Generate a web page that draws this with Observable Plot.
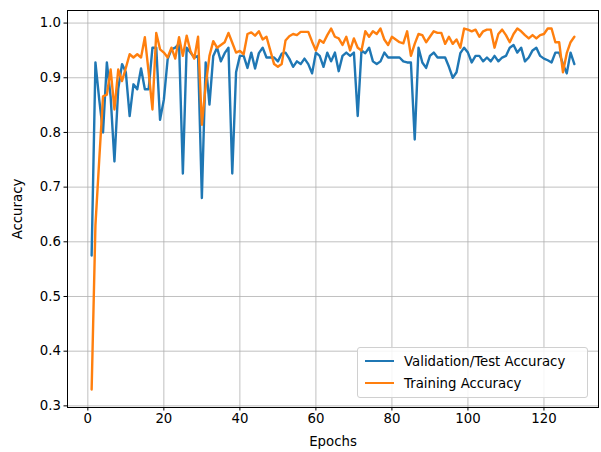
<!DOCTYPE html>
<html>
<head>
<meta charset="utf-8">
<script src="https://cdn.jsdelivr.net/npm/d3@7"></script>
<script src="https://cdn.jsdelivr.net/npm/@observablehq/plot@0.6"></script>
<style>
  html, body { margin: 0; padding: 0; background: #fff; }
  #wrap { position: relative; width: 601px; height: 452px; font-family: "DejaVu Sans", sans-serif; }
  #legend { position: absolute; left: 357px; top: 347px; width: 231px; height: 51px; box-sizing: border-box;
    border: 1px solid #d0d0d0; border-radius: 3px; background: rgba(255,255,255,0.85); font-size: 13.3px; color: #000; }
  .row { position: absolute; left: 0; height: 20px; display: flex; align-items: center; }
  .sw { width: 29px; height: 2.5px; margin-left: 7px; margin-right: 10px; }
</style>
</head>
<body>
<div id="wrap">
  <div id="chart"></div>
  <div id="legend"></div>
</div>
<script>
const epochs = d3.range(1, 129);

const valAcc = [
  0.575, 0.928, 0.86, 0.80, 0.928, 0.865, 0.747, 0.88, 0.925, 0.91,
  0.83, 0.888, 0.879, 0.917, 0.879, 0.879, 0.955, 0.955, 0.823, 0.86,
  0.934, 0.952, 0.955, 0.962, 0.725, 0.955, 0.946, 0.937, 0.94, 0.68,
  0.928, 0.851, 0.94, 0.955, 0.93, 0.945, 0.955, 0.725, 0.91, 0.94,
  0.94, 0.918, 0.946, 0.917, 0.945, 0.955, 0.937, 0.937, 0.937, 0.93,
  0.944, 0.946, 0.935, 0.92, 0.93, 0.925, 0.935, 0.925, 0.908, 0.946,
  0.94, 0.92, 0.946, 0.93, 0.946, 0.912, 0.94, 0.946, 0.94, 0.946,
  0.83, 0.95, 0.945, 0.955, 0.93, 0.925, 0.93, 0.946, 0.937, 0.937,
  0.937, 0.937, 0.93, 0.928, 0.928, 0.787, 0.955, 0.928, 0.918, 0.94,
  0.946, 0.937, 0.937, 0.937, 0.92, 0.90, 0.91, 0.945, 0.955, 0.946,
  0.928, 0.94, 0.94, 0.93, 0.937, 0.93, 0.94, 0.93, 0.937, 0.94,
  0.955, 0.96, 0.946, 0.955, 0.93, 0.937, 0.95, 0.955, 0.94, 0.935,
  0.932, 0.928, 0.946, 0.946, 0.925, 0.908, 0.946, 0.925
];

const trainAcc = [
  0.33, 0.63, 0.75, 0.866, 0.869, 0.915, 0.842, 0.915, 0.894, 0.918,
  0.943, 0.937, 0.943, 0.937, 0.974, 0.91, 0.842, 0.982, 0.952, 0.946,
  0.937, 0.955, 0.935, 0.974, 0.94, 0.977, 0.949, 0.935, 0.975, 0.814,
  0.885, 0.94, 0.967, 0.955, 0.96, 0.965, 0.982, 0.964, 0.946, 0.949,
  0.943, 0.98, 0.983, 0.977, 0.985, 0.97, 0.975, 0.95, 0.925, 0.92,
  0.925, 0.968, 0.976, 0.98, 0.978, 0.984, 0.984, 0.984, 0.966, 0.95,
  0.969, 0.964, 0.978, 0.99, 0.975, 0.972, 0.96, 0.975, 0.95, 0.972,
  0.955, 0.95, 0.985, 0.975, 0.985, 0.98, 0.99, 0.97, 0.96, 0.975,
  0.97, 0.965, 0.963, 0.985, 0.94, 0.962, 0.98, 0.978, 0.965, 0.975,
  0.985, 0.982, 0.982, 0.962, 0.975, 0.962, 0.97, 0.955, 0.99, 0.988,
  0.985, 0.988, 0.975, 0.985, 0.988, 0.988, 0.955, 0.98, 0.988, 0.978,
  0.965, 0.98, 0.99, 0.985, 0.978, 0.972, 0.978, 0.972, 0.978, 0.98,
  0.99, 0.99, 0.965, 0.965, 0.91, 0.945, 0.965, 0.975
];

const xTicks = [0, 20, 40, 60, 80, 100, 120];
const yTicks = [0.3, 0.4, 0.5, 0.6, 0.7, 0.8, 0.9, 1.0];

const seriesNames = ["Validation/Test Accuracy", "Training Accuracy"];
const seriesColors = ["#1f77b4", "#ff7f0e"];

const valData = epochs.map((e, i) => ({epoch: e, acc: valAcc[i]}));
const trainData = epochs.map((e, i) => ({epoch: e, acc: trainAcc[i]}));

const chart = Plot.plot({
  width: 601,
  height: 452,
  marginLeft: 67,
  marginRight: 3,
  marginTop: 10,
  marginBottom: 45,
  style: {fontFamily: "DejaVu Sans, sans-serif", fontSize: "13.3px", color: "#000", background: "#fff"},
  x: {domain: [-5.35, 134.35]},
  y: {domain: [0.297, 1.023]},
  marks: [
    Plot.gridX(xTicks, {stroke: "#b0b0b0", strokeOpacity: 1, strokeWidth: 0.8}),
    Plot.gridY(yTicks, {stroke: "#b0b0b0", strokeOpacity: 1, strokeWidth: 0.8}),
    Plot.line(valData, {x: "epoch", y: "acc", stroke: seriesColors[0], strokeWidth: 2.4}),
    Plot.line(trainData, {x: "epoch", y: "acc", stroke: seriesColors[1], strokeWidth: 2.4}),
    Plot.frame({stroke: "#000", strokeWidth: 1}),
    Plot.axisX(xTicks, {tickSize: 3.5, tickPadding: 3, label: "Epochs", labelAnchor: "center", labelArrow: "none", labelOffset: 38, tickFormat: d => String(d)}),
    Plot.axisY(yTicks, {tickSize: 3.5, tickPadding: 3, label: "Accuracy", labelAnchor: "center", labelArrow: "none", labelOffset: 55, tickFormat: d => d.toFixed(1)})
  ]
});
document.getElementById("chart").appendChild(chart);

const legend = document.getElementById("legend");
seriesNames.forEach((name, i) => {
  const row = document.createElement("div");
  row.className = "row";
  row.style.top = (3 + i * 22) + "px";
  const sw = document.createElement("div");
  sw.className = "sw";
  sw.style.background = seriesColors[i];
  const tx = document.createElement("span");
  tx.textContent = name;
  row.appendChild(sw);
  row.appendChild(tx);
  legend.appendChild(row);
});
</script>
</body>
</html>
